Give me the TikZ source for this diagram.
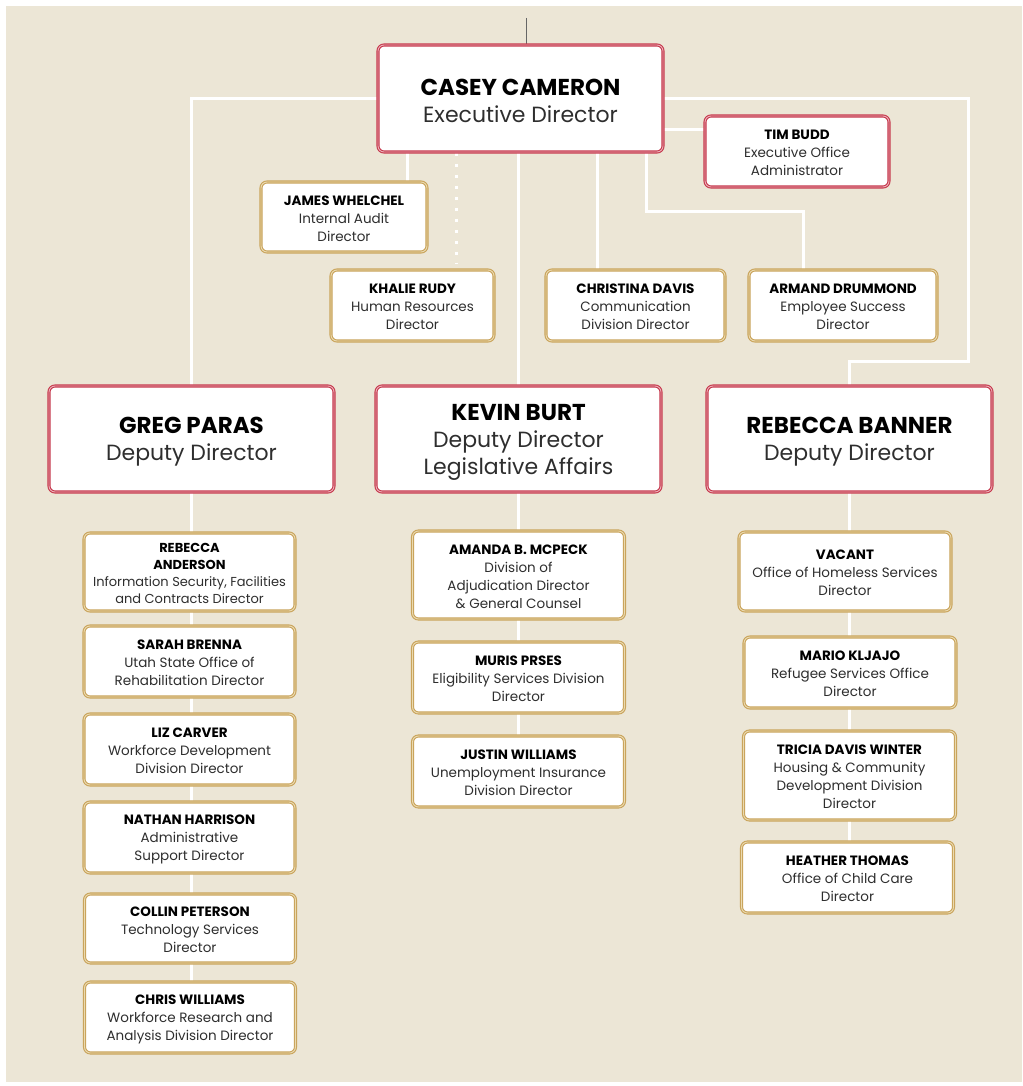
\documentclass[tikz,border=0pt]{standalone}
\usepackage{fontspec}
\setmainfont{Poppins}
\usetikzlibrary{calc}
\definecolor{bgbeige}{HTML}{ECE6D6}
\definecolor{redb}{HTML}{C63A4E}
\definecolor{redl}{HTML}{EDB0B9}
\definecolor{goldb}{HTML}{C9A45C}
\definecolor{goldl}{HTML}{EBDAB0}
\definecolor{subtxt}{HTML}{2E2E2E}
\pgfdeclarelayer{back}
\pgfdeclarelayer{lines}
\pgfsetlayers{back,lines,main}
\tikzset{
  base/.style={rounded corners=6pt, fill=white, align=center, inner sep=0pt,
    line width=1.1pt, double distance=0.9pt},
  bigbox/.style={base, draw=redb, double=redl, font=\fontsize{22}{27}\selectfont},
  smallred/.style={base, draw=redb, double=redl, font=\fontsize{13.5}{18}\selectfont},
  smallgold/.style={base, draw=goldb, double=goldl, font=\fontsize{13.5}{18}\selectfont},
  conn/.style={draw=white, line width=3pt},
  dotconn/.style={draw=white, line width=3pt, dash pattern=on 3pt off 8pt},
}
\newcommand{\nmbig}[1]{{\fontsize{23}{27}\selectfont\bfseries\rule{0pt}{22pt}#1}}
\newcommand{\nm}[1]{{\bfseries\rule{0pt}{13pt}#1}}
\newcommand{\sub}[1]{{\color{subtxt}#1}}
\begin{document}
\begin{tikzpicture}[x=1pt,y=-1pt]
\begin{pgfonlayer}{back}
\fill[white] (0,0) rectangle (1022,1086);
\fill[bgbeige] (6,6) rectangle (1022,1082);
\end{pgfonlayer}
\useasboundingbox (0,0) rectangle (1022,1086);

% top level
\node[bigbox, minimum width=285pt, minimum height=107pt] (casey) at (520.5,98.5) {\nmbig{CASEY CAMERON}\\\sub{Executive Director}};
\node[smallred, minimum width=184pt, minimum height=71pt] (tim) at (797,151.5) {\nm{TIM BUDD}\\\sub{Executive Office}\\\sub{Administrator}};
\node[smallgold, minimum width=166pt, minimum height=70pt] (james) at (344,217) {\nm{JAMES WHELCHEL}\\\sub{Internal Audit}\\\sub{Director}};
\node[smallgold, minimum width=163pt, minimum height=71pt] (khalie) at (412.5,305.5) {\nm{KHALIE RUDY}\\\sub{Human Resources}\\\sub{Director}};
\node[smallgold, minimum width=179pt, minimum height=71pt] (christina) at (635.5,305.5) {\nm{CHRISTINA DAVIS}\\\sub{Communication}\\\sub{Division Director}};
\node[smallgold, minimum width=188pt, minimum height=71pt] (armand) at (843,305.5) {\nm{ARMAND DRUMMOND}\\\sub{Employee Success}\\\sub{Director}};

% deputies
\node[bigbox, minimum width=285pt, minimum height=106pt] (greg) at (191.5,439) {\nmbig{GREG PARAS}\\\sub{Deputy Director}};
\node[bigbox, minimum width=285pt, minimum height=106pt] (kevin) at (518.5,439) {\nmbig{KEVIN BURT}\\\sub{Deputy Director}\\\sub{Legislative Affairs}};
\node[bigbox, minimum width=285pt, minimum height=106pt] (banner) at (849.5,439) {\nmbig{REBECCA BANNER}\\\sub{Deputy Director}};

% Greg column
\tikzset{gcol/.style={smallgold, minimum width=211pt}}
\node[gcol, minimum height=78pt, font=\fontsize{13}{17}\selectfont] (ra) at (189.5,572) {\nm{REBECCA}\\\nm{ANDERSON}\\\sub{Information Security, Facilities}\\\sub{and Contracts Director}};
\node[gcol, minimum height=71pt] (sb) at (189.5,661.5) {\nm{SARAH BRENNA}\\\sub{Utah State Office of}\\\sub{Rehabilitation Director}};
\node[gcol, minimum height=71pt] (lc) at (189.5,749.5) {\nm{LIZ CARVER}\\\sub{Workforce Development}\\\sub{Division Director}};
\node[gcol, minimum height=71pt] (nh) at (189.5,837.5) {\nm{NATHAN HARRISON}\\\sub{Administrative}\\\sub{Support Director}};
\node[gcol, minimum height=69pt] (cp) at (190,928.5) {\nm{COLLIN PETERSON}\\\sub{Technology Services}\\\sub{Director}};
\node[gcol, minimum height=71pt] (cw) at (190,1017.5) {\nm{CHRIS WILLIAMS}\\\sub{Workforce Research and}\\\sub{Analysis Division Director}};

% Kevin column
\tikzset{kcol/.style={smallgold, minimum width=212pt}}
\node[kcol, minimum height=88pt] (am) at (518.5,575) {\nm{AMANDA B. MCPECK}\\\sub{Division of}\\\sub{Adjudication Director}\\\sub{\& General Counsel}};
\node[kcol, minimum height=71pt] (mp) at (518.5,677.5) {\nm{MURIS PRSES}\\\sub{Eligibility Services Division}\\\sub{Director}};
\node[kcol, minimum height=71pt] (jw) at (518.5,771.5) {\nm{JUSTIN WILLIAMS}\\\sub{Unemployment Insurance}\\\sub{Division Director}};

% Banner column
\tikzset{bcol/.style={smallgold, minimum width=212pt}}
\node[bcol, minimum height=79pt] (va) at (845,571.5) {\nm{VACANT}\\\sub{Office of Homeless Services}\\\sub{Director}};
\node[bcol, minimum height=71pt] (mk) at (850,672.5) {\nm{MARIO KLJAJO}\\\sub{Refugee Services Office}\\\sub{Director}};
\node[bcol, minimum height=89pt] (tdw) at (849.5,775.5) {\nm{TRICIA DAVIS WINTER}\\\sub{Housing \& Community}\\\sub{Development Division}\\\sub{Director}};
\node[bcol, minimum height=71pt] (ht) at (847.5,877.5) {\nm{HEATHER THOMAS}\\\sub{Office of Child Care}\\\sub{Director}};

% coordinates
\coordinate (topc) at (526,18);
\coordinate (rA) at (968,361);
\coordinate (tA) at (663,130);
\coordinate (aA) at (646,211);
\coordinate (aB) at (803,211);
\coordinate (jX) at (407,0);
\coordinate (kX) at (456,0);
\coordinate (cX) at (597,0);
\coordinate (kEnd) at (456,264);

\begin{pgfonlayer}{lines}
\draw[conn] (casey.west) -| (greg.north);
\draw[conn] (casey.east) -| (rA) -| (banner.north);
\draw[conn] (tA) -- (tA -| tim.west);
\draw[conn] (aA |- casey.south) -- (aA) -- (aB) -- (aB |- armand.north);
\draw[conn] (jX |- casey.south) -- (jX |- james.north);
\draw[dotconn] (kX |- casey.south) -- (kEnd);
\draw[conn] (casey.south -| kevin.north) -- (kevin.north);
\draw[conn] (cX |- casey.south) -- (cX |- christina.north);
\draw[conn] (greg.south) -- (greg.south |- cw.north);
\draw[conn] (kevin.south) -- (kevin.south |- jw.north);
\draw[conn] (banner.south) -- (banner.south |- ht.north);
\draw[gray!80!black, line width=1pt] (topc) -- (topc |- casey.north);
\end{pgfonlayer}
\end{tikzpicture}
\end{document}
